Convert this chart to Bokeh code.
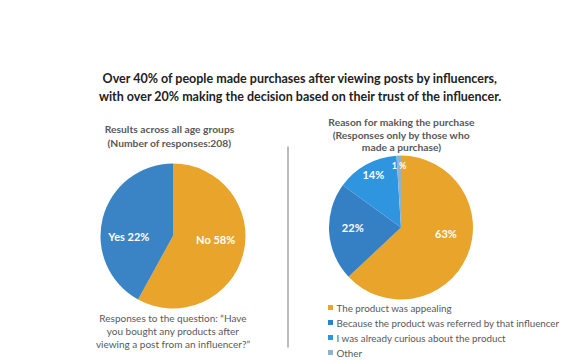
import numpy as np
from bokeh.plotting import figure
from bokeh.models import Range1d, ColumnDataSource
from bokeh.core.properties import value
from bokeh.embed import file_html
from bokeh.resources import INLINE

# ---------------- data ----------------
title_lines = [
    "Over 40% of people made purchases after viewing posts by influencers,",
    "with over 20% making the decision based on their trust of the influencer.",
]

left_title = ["Results across all age groups", "(Number of responses:208)"]
left_categories = ["No", "Yes"]
left_values = [58, 42]
left_labels = ["No 58%", "Yes 22%"]
left_colors = ["#E9A52B", "#3A84C6"]
left_caption = [
    "Responses to the question: \u201cHave",
    "you bought any products after",
    "viewing a post from an influencer?\u201d",
]

right_title = ["Reason for making the purchase", "(Responses only by those who", "made a purchase)"]
right_categories = [
    "The product was appealing",
    "Because the product was referred by that influencer",
    "I was already curious about the product",
    "Other",
]
right_values = [63, 22, 14, 1]
right_labels = ["63%", "22%", "14%", "1 %"]
right_colors = ["#E9A52B", "#3580C4", "#2F95DE", "#8FB2D0"]

FONT = "Lato"
W, H = 577, 363

p = figure(width=W, height=H, output_backend="svg", toolbar_location=None,
           x_range=Range1d(0, W), y_range=Range1d(0, H), min_border=0)
p.axis.visible = False
p.grid.visible = False
p.outline_line_color = None
p.background_fill_color = "white"
p.border_fill_color = "white"


def pie(cx, cy, r, values, colors, labels, label_r, label_shift_deg, label_sizes):
    v = np.array(values, dtype=float)
    frac = v / v.sum()
    cum = np.concatenate([[0], np.cumsum(frac)])
    start = np.pi / 2 - 2 * np.pi * cum[:-1]
    end = np.pi / 2 - 2 * np.pi * cum[1:]
    src = ColumnDataSource(dict(start=start, end=end, color=colors))
    p.wedge(x=cx, y=cy, radius=r, start_angle="start", end_angle="end",
            direction="clock", fill_color="color", line_color=None, source=src)
    mid = (start + end) / 2 + np.radians(label_shift_deg)
    lx = cx + np.array(label_r) * r * np.cos(mid)
    ly = cy + np.array(label_r) * r * np.sin(mid)
    lsrc = ColumnDataSource(dict(x=lx, y=ly, t=labels, s=label_sizes))
    p.text(x="x", y="y", text="t", source=lsrc, text_color="white",
           text_font=value(FONT), text_font_style="bold", text_font_size="s",
           text_align="center", text_baseline="middle")


# title
p.text(x=[300, 300], y=[285, 267], text=title_lines, text_color="#222222",
       text_font=value(FONT), text_font_style="bold", text_font_size="12.5px",
       text_align="center", text_baseline="middle")

# left chart
p.text(x=[169, 169], y=[235, 221], text=left_title, text_color="#595959",
       text_font=value(FONT), text_font_style="bold", text_font_size="10.3px",
       text_align="center", text_baseline="middle")
pie(172.5, 127.5, 72.5, left_values, left_colors, left_labels,
    [0.59, 0.61], [9.7, 14.4], ["11px", "11px"])
p.text(x=[172.5] * 3, y=[46, 33, 20], text=left_caption, text_color="#595959",
       text_font=value(FONT), text_font_size="10px",
       text_align="center", text_baseline="middle")

# divider
p.segment(x0=[287.5], y0=[217], x1=[287.5], y1=[16], line_color="#A6A6A6", line_width=1.5)

# right chart
p.text(x=[401] * 3, y=[242, 229, 217], text=right_title, text_color="#595959",
       text_font=value(FONT), text_font_style="bold", text_font_size="10.3px",
       text_align="center", text_baseline="middle")
pie(400.5, 136, 72, right_values, right_colors, right_labels,
    [0.63, 0.67, 0.83, 0.86], [15.8, -3.6, -1.2, 0], ["11px", "11px", "11px", "9px"])

# legend
leg_y = [56, 41, 26, 11]
p.scatter(x=[330] * 4, y=leg_y, marker="square", size=5, fill_color=right_colors, line_color=None)
p.text(x=[336] * 4, y=leg_y, text=right_categories, text_color="#595959",
       text_font=value(FONT), text_font_size="9.8px",
       text_align="left", text_baseline="middle")

open("out.html", "w").write(file_html(p, INLINE))
